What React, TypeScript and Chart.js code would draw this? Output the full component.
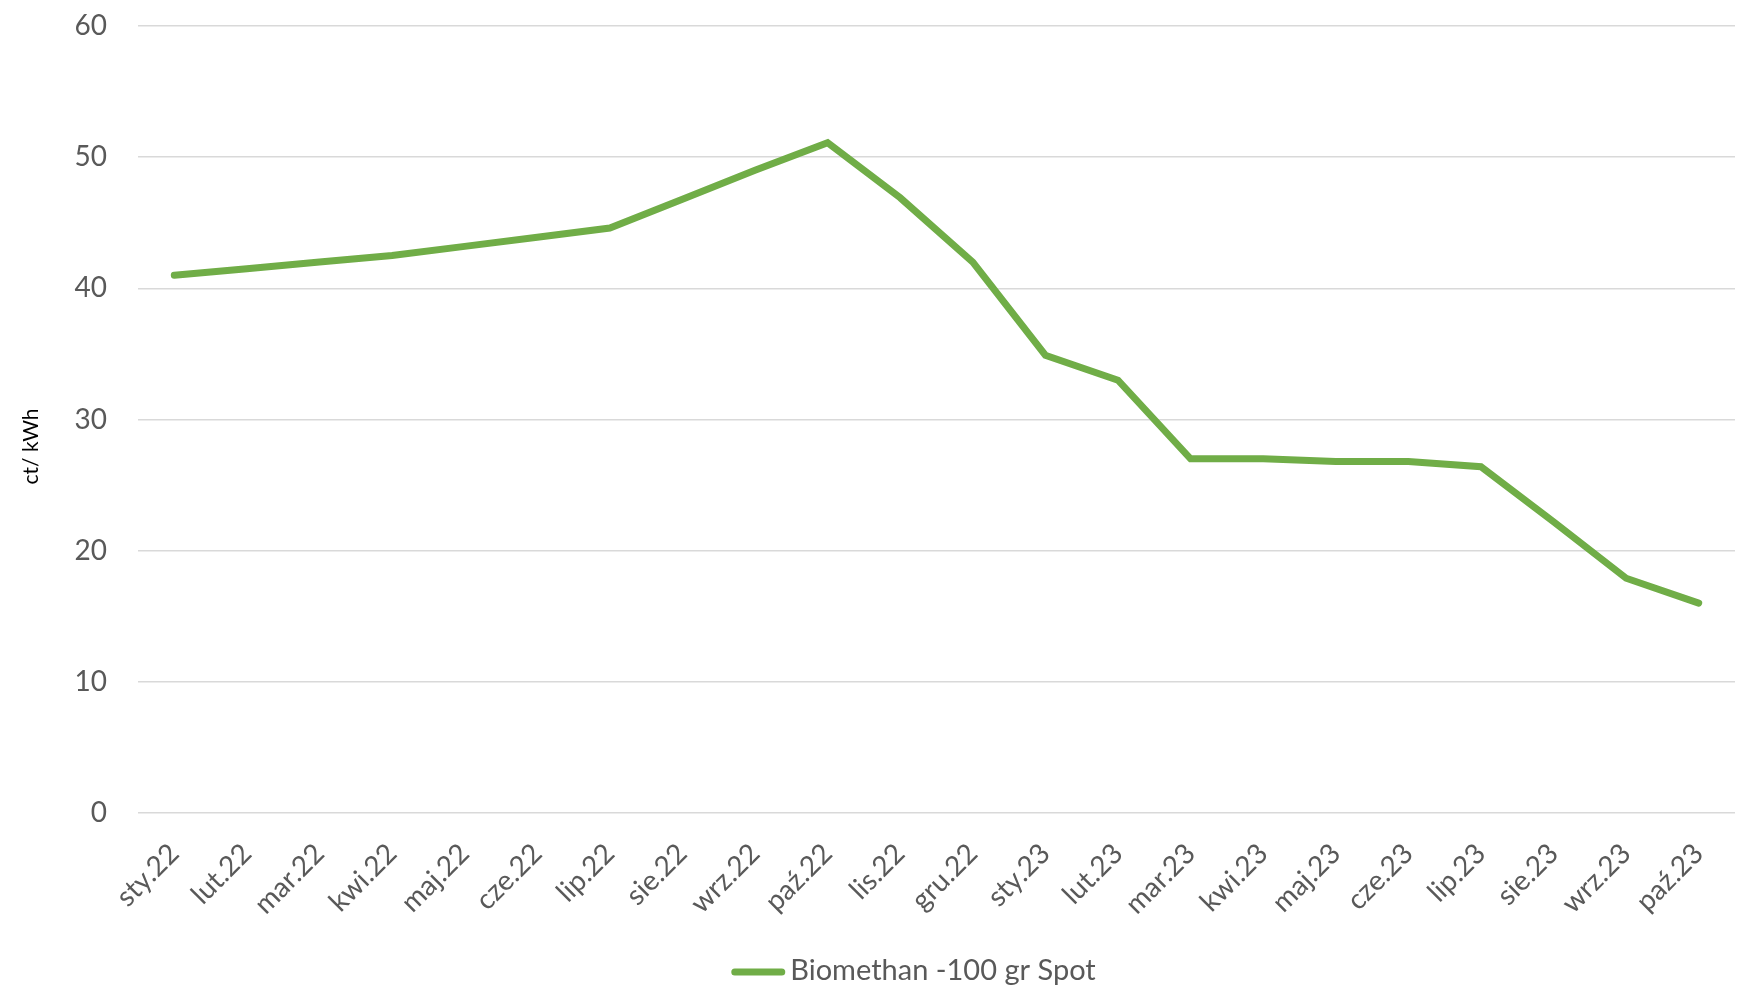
import React, { useEffect, useRef } from "react";
import { Chart, registerables } from "chart.js";

Chart.register(...registerables);

const categories = [
  "sty.22", "lut.22", "mar.22", "kwi.22", "maj.22", "cze.22", "lip.22", "sie.22",
  "wrz.22", "paź.22", "lis.22", "gru.22", "sty.23", "lut.23", "mar.23", "kwi.23",
  "maj.23", "cze.23", "lip.23", "sie.23", "wrz.23", "paź.23",
];

const biomethanValues = [
  41.0, 41.5, 42.0, 42.5, 43.2, 43.9, 44.6, 46.8,
  49.0, 51.1, 46.9, 42.0, 34.9, 33.0, 27.0, 27.0,
  26.8, 26.8, 26.4, 22.2, 17.9, 16.0,
];

const seriesLabel = "Biomethan -100 gr Spot";
const yTitle = "ct/ kWh";
const yMin = 0;
const yMax = 60;
const yStep = 10;

const FONT = "Lato, 'Open Sans', sans-serif";
const GREEN = "#70AD47";
const TEXT_GREY = "#595959";

// Excel-like y-axis title and legend drawn on the canvas
const excelDecor = {
  id: "excelDecor",
  afterDraw(chart: any) {
    const { ctx, chartArea } = chart;
    ctx.save();
    // y-axis title
    ctx.fillStyle = "#000000";
    ctx.font = `21px ${FONT}`;
    ctx.textAlign = "center";
    ctx.textBaseline = "middle";
    ctx.translate(31.5, (chartArea.top + chartArea.bottom) / 2 + 27);
    ctx.rotate(-Math.PI / 2);
    ctx.fillText(yTitle, 0, 0);
    ctx.restore();

    // legend
    const ds = chart.data.datasets[0];
    ctx.save();
    ctx.font = `29px ${FONT}`;
    const tw = ctx.measureText(ds.label).width;
    const lineW = 54;
    const gap = 5;
    const total = lineW + gap + tw;
    const cx = (chartArea.left + chartArea.right) / 2 - 23;
    const y = chart.height - 24;
    const x0 = cx - total / 2;
    ctx.strokeStyle = ds.borderColor;
    ctx.lineWidth = 7;
    ctx.lineCap = "round";
    ctx.beginPath();
    ctx.moveTo(x0 + 3.5, y + 1);
    ctx.lineTo(x0 + lineW - 3.5, y + 1);
    ctx.stroke();
    ctx.fillStyle = TEXT_GREY;
    ctx.textAlign = "left";
    ctx.textBaseline = "middle";
    ctx.fillText(ds.label, x0 + lineW + gap, y);
    ctx.restore();
  },
};

export default function App() {
  const canvasRef = useRef<HTMLCanvasElement | null>(null);

  useEffect(() => {
    document.body.style.margin = "0";
    const canvas = canvasRef.current;
    if (!canvas) return;
    const chart = new Chart(canvas, {
      type: "line",
      data: {
        labels: categories,
        datasets: [
          {
            label: seriesLabel,
            data: biomethanValues,
            borderColor: GREEN,
            backgroundColor: GREEN,
            borderWidth: 7,
            borderCapStyle: "round",
            borderJoinStyle: "miter",
            pointRadius: 0,
            pointHoverRadius: 0,
            tension: 0,
            fill: false,
          },
        ],
      },
      options: {
        responsive: false,
        animation: false,
        devicePixelRatio: 1,
        layout: { padding: { left: 0, right: 7, top: 26, bottom: 70 } },
        scales: {
          x: {
            offset: true,
            grid: { display: false, drawTicks: false },
            border: { display: false },
            ticks: {
              minRotation: 45,
              maxRotation: 45,
              autoSkip: false,
              padding: 24,
              color: TEXT_GREY,
              font: { family: FONT, size: 28 },
            },
            afterFit(scale: any) {
              scale.paddingLeft = 0;
              scale.paddingRight = 0;
              scale.height = 995 - 70 - 813;
            },
          },
          y: {
            min: yMin,
            max: yMax,
            grid: { color: "#d9d9d9", lineWidth: 1.5, drawTicks: false },
            border: { display: false },
            ticks: {
              stepSize: yStep,
              padding: 31,
              color: TEXT_GREY,
              font: { family: FONT, size: 28 },
            },
            afterFit(scale: any) {
              scale.width = 138;
              scale.paddingTop = 0;
              scale.paddingBottom = 0;
            },
          },
        },
        plugins: {
          tooltip: { enabled: false },
          legend: { display: false },
        },
      },
      plugins: [excelDecor],
    });
    return () => chart.destroy();
  }, []);

  return (
    <div style={{ width: 1742, height: 995, background: "#ffffff" }}>
      <canvas ref={canvasRef} width={1742} height={995} style={{ display: "block" }} />
    </div>
  );
}
